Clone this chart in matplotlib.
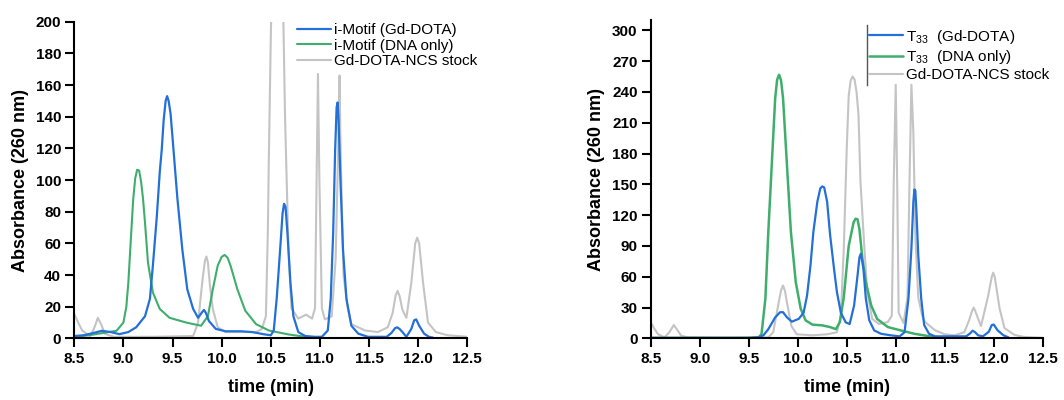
import numpy as np
import matplotlib
matplotlib.use("Agg")
import matplotlib.pyplot as plt

plt.rcParams['font.family'] = ['Liberation Sans', 'DejaVu Sans']
plt.rcParams['mathtext.default'] = 'regular'

# ---- left panel: i-Motif ----
t_im_gd = [8.5, 8.6, 8.7, 8.78, 8.87, 8.96, 9.05, 9.13, 9.22, 9.27, 9.30, 9.34, 9.37, 9.39,
           9.41, 9.43, 9.445, 9.46, 9.48, 9.51, 9.55, 9.60, 9.65, 9.71, 9.76, 9.80, 9.82,
           9.84, 9.87, 9.94, 10.04, 10.2, 10.31, 10.44, 10.5, 10.53, 10.56, 10.595, 10.62,
           10.635, 10.65, 10.67, 10.70, 10.73, 10.78, 10.85, 10.95, 11.02, 11.08, 11.11,
           11.135, 11.155, 11.17, 11.18, 11.19, 11.21, 11.235, 11.27, 11.32, 11.39, 11.49,
           11.6, 11.68, 11.73, 11.765, 11.785, 11.81, 11.84, 11.88, 11.93, 11.96, 11.98,
           12.01, 12.06, 12.11, 12.15]
a_im_gd = [1.5, 2, 3.5, 4.8, 4, 2.7, 4, 7, 14, 25, 46, 77, 105, 119,
           138, 150, 153, 150, 142, 119, 88, 56, 31, 18.6, 13, 16.5, 18,
           16, 11, 6, 4.5, 4.5, 4, 2.5, 2, 5, 25, 56, 79,
           85, 83, 66, 35, 14, 4, 1.5, 1, 1, 5, 25,
           67, 119, 146, 149, 138, 98, 56, 25, 8, 3, 1,
           1, 1, 3.6, 6.5, 7, 6, 4, 1, 6, 11.5, 12,
           8, 3, 1, 0.5]

t_im_dna = [8.5, 8.65, 8.8, 8.93, 9.0, 9.03, 9.05, 9.08, 9.10, 9.12, 9.14, 9.16, 9.18, 9.20,
            9.22, 9.25, 9.30, 9.37, 9.47, 9.64, 9.79, 9.86, 9.91, 9.96, 10.0, 10.03, 10.06,
            10.09, 10.16, 10.24, 10.35, 10.48, 10.6, 10.68, 10.85, 11.0]
a_im_dna = [1, 2, 3.5, 4.8, 10, 20, 35, 67, 88, 101, 106.5, 106, 99, 88,
            73, 48, 29, 18.6, 13, 10, 8, 14, 31, 46, 51.5, 52.7, 51,
            46, 31, 17.5, 9, 5, 3.5, 2.5, 1, 0.5]

t_stock_l = [8.5, 8.54, 8.58, 8.66, 8.70, 8.74, 8.78, 8.81, 8.9, 9.3, 9.71, 9.76, 9.79, 9.81,
             9.83, 9.845, 9.86, 9.88, 9.91, 9.96, 10.04, 10.35, 10.41, 10.45, 10.47, 10.48,
             10.5, 10.52, 10.57, 10.62, 10.645, 10.68, 10.71, 10.78, 10.86, 10.92, 10.95,
             10.966, 10.98, 10.995, 11.02, 11.05, 11.12, 11.16, 11.19, 11.2, 11.21, 11.24,
             11.28, 11.32, 11.46, 11.59, 11.69, 11.74, 11.77, 11.79, 11.81, 11.84, 11.88,
             11.93, 11.97, 11.99, 12.01, 12.05, 12.1, 12.18, 12.3, 12.4, 12.5]
a_stock_l = [15.5, 10, 5, 1.5, 6, 13, 8, 3, 1, 1, 1.5, 10, 28, 39.5,
             49, 51.7, 48, 34, 18.6, 7, 4, 4, 6, 14, 67, 113,
             190, 250, 265, 230, 140, 56, 19, 12.5, 15, 12.5, 19,
             99, 167, 99, 19, 12, 14, 50, 130, 166, 120, 40,
             20, 9, 5, 4, 7, 16, 27, 30, 27, 18, 13,
             35, 60, 63.6, 60, 35, 10, 4, 2, 1.5, 1]

# ---- right panel: T33 ----
t_t33_gd = [8.5, 9.0, 9.5, 9.6, 9.65, 9.70, 9.77, 9.82, 9.85, 9.89, 9.94, 10.01, 10.06,
            10.095, 10.13, 10.16, 10.20, 10.23, 10.25, 10.27, 10.30, 10.33, 10.37, 10.40,
            10.44, 10.49, 10.53, 10.575, 10.61, 10.63, 10.645, 10.67, 10.695, 10.73, 10.78,
            10.85, 10.95, 11.04, 11.09, 11.13, 11.16, 11.18, 11.19, 11.20, 11.21, 11.23,
            11.26, 11.29, 11.34, 11.4, 11.72, 11.76, 11.785, 11.81, 11.84, 11.89, 11.95,
            11.98, 12.0, 12.04, 12.10, 12.15]
a_t33_gd = [0.5, 0.5, 0.5, 1, 3, 9, 20.5, 25.5, 25.5, 20.5, 16.3, 19, 25,
            41.7, 71, 104, 133, 146, 148, 147, 133, 101, 68, 45,
            25, 15.6, 14, 32, 61, 79, 82.5, 68, 38.8, 17.6, 7.8,
            4.5, 3, 2, 6, 38.8, 87.6, 133, 145, 144, 126.5, 81,
            38.8, 13, 4.5, 2, 2, 5, 7.5, 6, 3, 2, 6.5,
            13, 13.5, 7.8, 3, 1]

t_t33_dna = [8.5, 9.0, 9.5, 9.6, 9.63, 9.67, 9.70, 9.74, 9.77, 9.79, 9.81, 9.83, 9.85, 9.89,
             9.93, 9.98, 10.03, 10.08, 10.15, 10.25, 10.33, 10.39, 10.43, 10.47, 10.52,
             10.57, 10.59, 10.61, 10.63, 10.66, 10.695, 10.75, 10.81, 10.92, 11.05, 11.19,
             11.33, 11.4]
a_t33_dna = [0.5, 0.5, 0.5, 1, 4, 38.8, 104, 178.5, 234, 252, 256.7, 251, 234, 168.8,
             104, 54.7, 29, 17.6, 13.4, 12.7, 11, 9, 16, 40, 90,
             113, 116.5, 116, 106, 77.6, 54.7, 32, 19, 11, 7.8, 4.5,
             2.3, 1]

t_stock_r = [8.5, 8.54, 8.575, 8.64, 8.69, 8.735, 8.78, 8.81, 8.88, 9.3, 9.70, 9.75, 9.80,
             9.83, 9.85, 9.87, 9.89, 9.935, 9.99, 10.15, 10.3, 10.4, 10.44, 10.47, 10.5,
             10.52, 10.54, 10.56, 10.58, 10.60, 10.62, 10.64, 10.68, 10.71, 10.76, 10.83,
             10.92, 10.96, 10.98, 11.0, 11.015, 11.03, 11.08, 11.12, 11.14, 11.16, 11.18,
             11.2, 11.23, 11.27, 11.3, 11.4, 11.5, 11.6, 11.7, 11.75, 11.78, 11.795, 11.81,
             11.87, 11.94, 11.98, 11.995, 12.01, 12.06, 12.11, 12.21, 12.3, 12.5]
a_stock_r = [15.6, 9, 4, 1, 6, 13, 7, 2.6, 1, 0.5, 1, 6, 32,
             47, 51.5, 46, 35, 12, 4, 3, 4, 6, 22, 87.6, 185,
             236, 251, 255, 252, 240, 217.6, 153, 88, 45, 19, 14,
             16, 22, 153, 247, 150, 25, 15, 40, 150, 247, 200,
             100, 40, 22, 16, 8, 4, 3, 6, 18, 27, 30, 27,
             12, 40, 60, 64, 60, 29, 10, 3.5, 1.5, 0.5]

xticks = [8.5, 9.0, 9.5, 10.0, 10.5, 11.0, 11.5, 12.0, 12.5]

blue = '#2370d8'
green = '#3fae6c'
grey = '#c4c4c4'

fig = plt.figure(figsize=(10.64, 4), dpi=100)
ax1 = fig.add_axes([0.0698, 0.154, 0.3694, 0.7918])
ax2 = fig.add_axes([0.6116, 0.154, 0.3684, 0.796])

kw = dict(solid_joinstyle='round', solid_capstyle='round')
ax1.plot(t_stock_l, a_stock_l, color=grey, lw=1.5, label='Gd-DOTA-NCS stock', **kw)
ax1.plot(t_im_dna, a_im_dna, color=green, lw=1.5, label='i-Motif (DNA only)', **kw)
ax1.plot(t_im_gd, a_im_gd, color=blue, lw=1.6, label='i-Motif (Gd-DOTA)', **kw)
ax1.set_ylim(0, 200)
ax1.set_yticks(range(0, 201, 20))

ax2.plot(t_stock_r, a_stock_r, color=grey, lw=1.5, label='Gd-DOTA-NCS stock', **kw)
ax2.plot(t_t33_dna, a_t33_dna, color=green, lw=1.8, label='T$_{33}$  (DNA only)', **kw)
ax2.plot(t_t33_gd, a_t33_gd, color=blue, lw=1.6, label='T$_{33}$  (Gd-DOTA)', **kw)
ax2.set_ylim(0, 310)
ax2.set_yticks(range(0, 301, 30))

for ax in (ax1, ax2):
    ax.set_xlim(8.5, 12.5)
    ax.set_xticks(xticks)
    ax.set_xticklabels(['%.1f' % x for x in xticks])
    for s in ('top', 'right'):
        ax.spines[s].set_visible(False)
    for s in ('left', 'bottom'):
        ax.spines[s].set_linewidth(1.5)
    ax.tick_params(direction='out', length=6.5, width=1.5, labelsize=11, pad=3)
    for lab in ax.get_xticklabels() + ax.get_yticklabels():
        lab.set_fontweight('bold')
    ax.set_xlabel('time (min)', fontsize=13, fontweight='bold', labelpad=10)
    ax.set_ylabel('Absorbance (260 nm)', fontsize=13, fontweight='bold', labelpad=5)

h, l = ax1.get_legend_handles_labels()
ax1.legend(h[::-1], l[::-1], loc='upper left', bbox_to_anchor=(0.548, 1.02), frameon=False,
           fontsize=11, handlelength=2.2, handletextpad=0.2, borderpad=0, labelspacing=0.1)
h, l = ax2.get_legend_handles_labels()
ax2.legend(h[::-1], l[::-1], loc='upper left', bbox_to_anchor=(0.538, 1.0), frameon=False,
           fontsize=11, handlelength=2.2, handletextpad=0.2, borderpad=0, labelspacing=0.15)
ax2.plot([0.551, 0.551], [0.796, 0.984], transform=ax2.transAxes, color='#555555',
         lw=1, clip_on=False)

fig.savefig('out.png', dpi=100)
